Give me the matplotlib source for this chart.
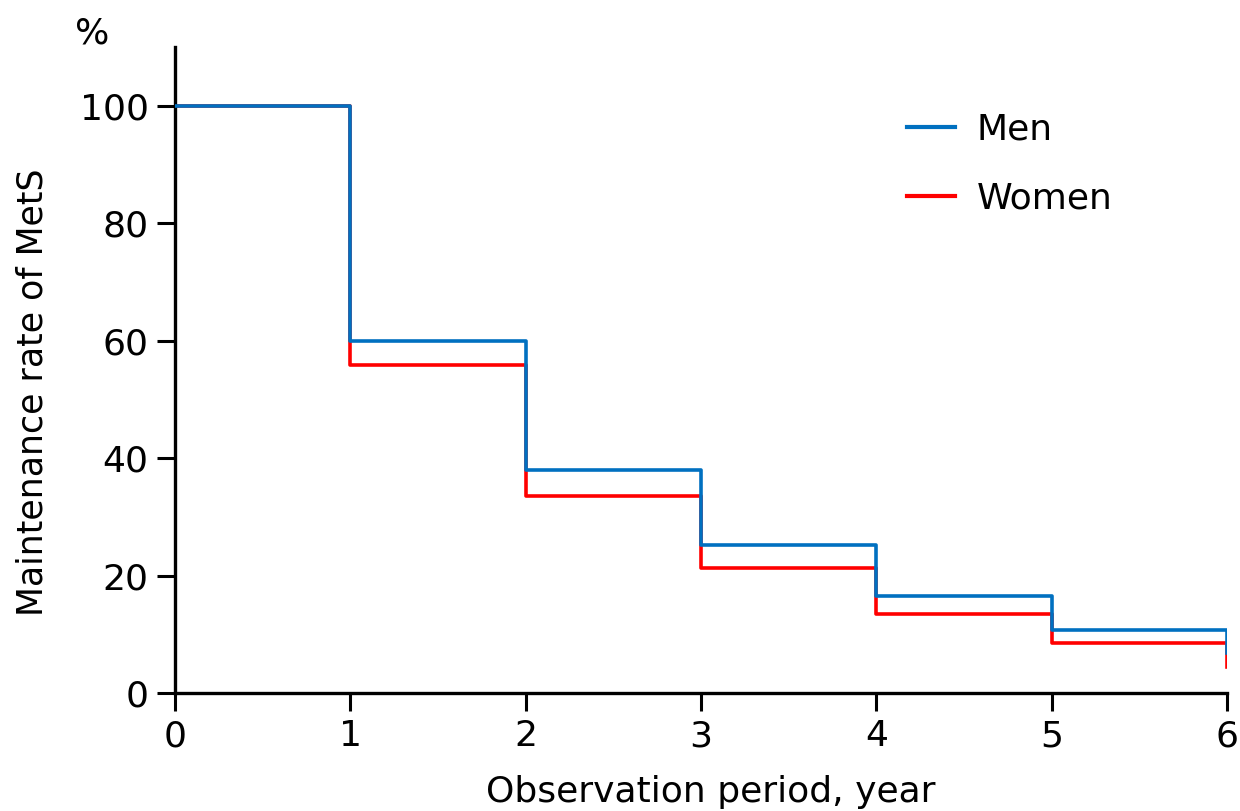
import matplotlib
matplotlib.use("Agg")
import matplotlib.pyplot as plt

years = [0, 1, 2, 3, 4, 5, 6]
men = [100, 60.0, 38.0, 25.2, 16.6, 10.7, 6.8]
women = [100, 55.9, 33.6, 21.2, 13.4, 8.5, 4.4]
xticks = [0, 1, 2, 3, 4, 5, 6]
yticks = [0, 20, 40, 60, 80, 100]

FS = 26
plt.rcParams['font.family'] = ['DejaVu Sans']
fig = plt.figure(figsize=(12.4, 8.11), dpi=100)
W, H = 1240, 811
ax = fig.add_axes([175 / W, 1 - 693 / H, (1227 - 175) / W, (693 - 47) / H])

ax.step(years, women, where='post', color='#FF0000', lw=2.6, label='Women', zorder=2)
ax.step(years, men, where='post', color='#0070C0', lw=2.6, label='Men', zorder=3)

ax.set_xlim(0, 6)
ax.set_ylim(0, 110)
ax.set_xticks(xticks)
ax.set_yticks(yticks)
ax.tick_params(axis='both', labelsize=FS, length=13, width=2.2, direction='out', color='black')
ax.tick_params(axis='x', pad=6)
ax.tick_params(axis='y', pad=6)
for s in ['top', 'right']:
    ax.spines[s].set_visible(False)
for s in ['left', 'bottom']:
    ax.spines[s].set_linewidth(2.4)

ax.set_xlabel('Observation period, year', fontsize=FS)
ax.xaxis.set_label_coords((711 - 175) / 1052, (693 - 809) / 646)
ax.xaxis.label.set_va('bottom')
ax.set_ylabel('Maintenance rate of MetS', fontsize=25)
ax.yaxis.set_label_coords((32 - 175) / 1052, (693 - 392) / 646)
ax.yaxis.label.set_va('center')
fig.text(92 / W, 1 - 33 / H, '%', fontsize=FS, ha='center', va='center')

h, l = ax.get_legend_handles_labels()
leg = ax.legend([h[1], h[0]], [l[1], l[0]], loc='upper left',
                bbox_to_anchor=(907 / W, 1 - 113 / H), bbox_transform=fig.transFigure,
                frameon=False, fontsize=FS, handlelength=1.33, labelspacing=0.95,
                handletextpad=0.6, borderpad=0, borderaxespad=0)
for line in leg.get_lines():
    line.set_linewidth(3.0)

fig.savefig('out.png', dpi=100)
